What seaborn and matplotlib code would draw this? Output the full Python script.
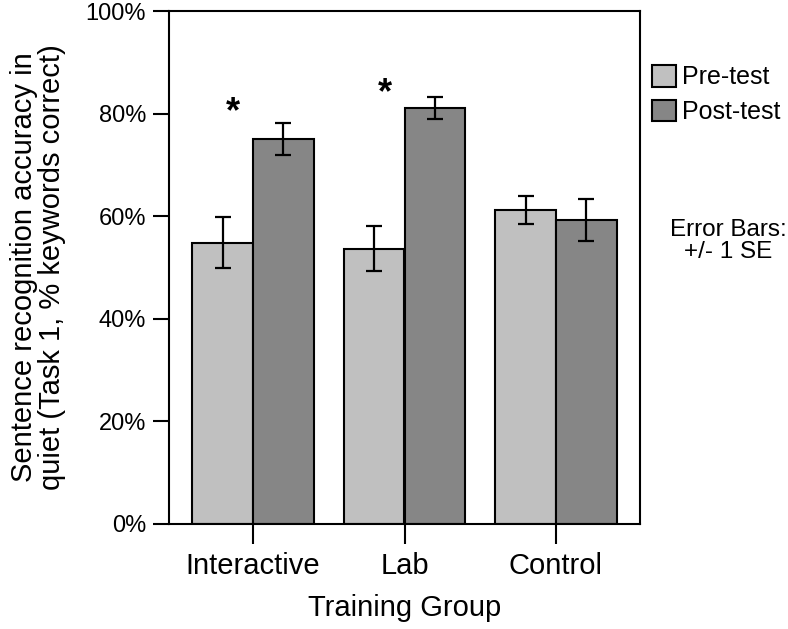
import matplotlib
matplotlib.use("Agg")
import matplotlib.pyplot as plt
import seaborn as sns
import pandas as pd
import numpy as np

groups = ["Interactive", "Lab", "Control"]
tests = ["Pre-test", "Post-test"]
pre_vals = [54.8, 53.7, 61.2]
post_vals = [75.0, 81.1, 59.3]
pre_se = [4.95, 4.35, 2.75]
post_se = [3.15, 2.2, 4.15]
star_groups = ["Interactive", "Lab"]
star_heights = [80.2, 83.9]
yticks = [0, 20, 40, 60, 80, 100]
ytick_labels = ["0%", "20%", "40%", "60%", "80%", "100%"]
colors = ["#c0c0c0", "#868686"]

df = pd.DataFrame({
    "group": groups * 2,
    "test": [tests[0]] * 3 + [tests[1]] * 3,
    "value": pre_vals + post_vals,
    "se": pre_se + post_se,
})

sns.set_style("white")
plt.rcParams["font.family"] = ["Liberation Sans", "DejaVu Sans"]
plt.rcParams["text.color"] = "black"
plt.rcParams["axes.labelcolor"] = "black"
plt.rcParams["xtick.color"] = "black"
plt.rcParams["ytick.color"] = "black"

fig = plt.figure(figsize=(7.88, 6.29), dpi=100)
ax = fig.add_axes([169 / 788, 1 - 524 / 629, (640 - 169) / 788, (524 - 11) / 629])

sns.barplot(data=df, x="group", y="value", hue="test", order=groups, hue_order=tests,
            palette=colors, edgecolor="black", linewidth=1.5, errorbar=None,
            width=0.8, ax=ax, legend=True)

# error bars from bar patches
for cont, test in zip(ax.containers, tests):
    sub = df[df["test"] == test].set_index("group").loc[groups]
    xs = [p.get_x() + p.get_width() / 2 for p in cont.patches]
    ax.errorbar(xs, sub["value"].values, yerr=sub["se"].values, fmt="none",
                ecolor="black", elinewidth=1.6, capsize=5.8, capthick=1.6, zorder=5)

# significance stars
for g, h in zip(star_groups, star_heights):
    xi = groups.index(g) - 0.13
    ax.text(xi, h, "*", ha="center", va="center", fontsize=26, fontweight="bold",
            color="black")

ax.set_ylim(0, 100)
ax.set_xlim(-0.555, 2.555)
ax.set_yticks(yticks)
ax.set_yticklabels(ytick_labels, fontsize=17)
ax.tick_params(axis="y", direction="out", length=11.5, width=1.5, pad=5, left=True,
               colors="black")
ax.tick_params(axis="x", direction="out", length=14.5, width=1.5, pad=6, bottom=True,
               labelsize=21, colors="black")
for s in ax.spines.values():
    s.set_visible(True)
    s.set_linewidth(1.5)
    s.set_color("black")

ax.set_xlabel("Training Group", fontsize=21, labelpad=10, color="black")
ax.set_ylabel("Sentence recognition accuracy in\nquiet (Task 1, % keywords correct)",
              fontsize=21, labelpad=14, linespacing=1.0, color="black")

ax.get_legend().remove()
handles = [plt.Rectangle((0, 0), 1, 1, facecolor=c, edgecolor="black", linewidth=1.5) for c in colors]
fig.legend(handles, tests, loc="upper left", bbox_to_anchor=(652 / 788, 1 - 65 / 629),
           frameon=False, fontsize=18, handlelength=0.95, handleheight=0.95,
           handletextpad=0.25, labelspacing=0.42, borderpad=0, borderaxespad=0,
           labelcolor="black")

fig.text(728 / 788, 1 - 241 / 629, "Error Bars:\n+/- 1 SE", ha="center", va="center",
         fontsize=17.5, multialignment="center", linespacing=1.0, color="black")

fig.savefig("out.png", dpi=100)
